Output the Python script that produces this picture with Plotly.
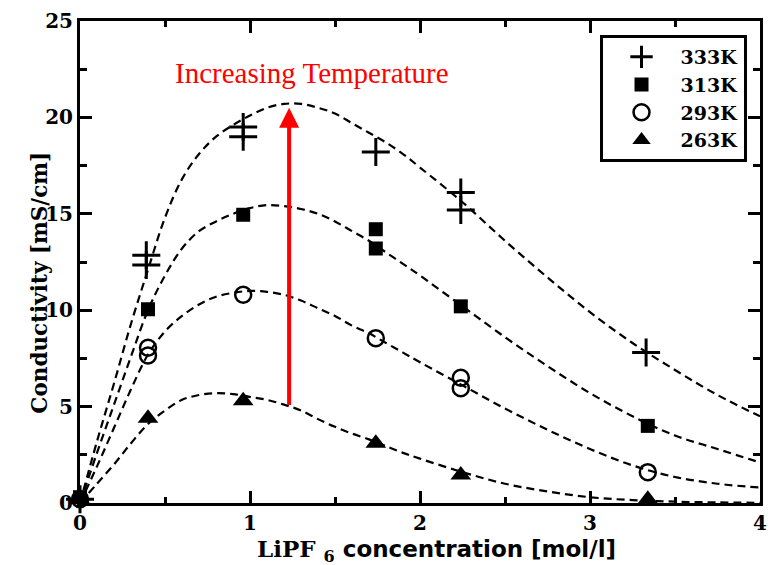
import plotly.graph_objects as go

# ---- data ----
labels = ["333K", "313K", "293K", "263K"]

x333 = [0, 0.39, 0.39, 0.96, 0.96, 1.74, 2.24, 2.24, 3.33]
y333 = [0.2, 12.85, 12.35, 19.5, 19.0, 18.2, 16.1, 15.2, 7.8]

x313 = [0, 0.40, 0.96, 1.74, 1.74, 2.24, 3.34]
y313 = [0.3, 10.05, 14.95, 14.2, 13.2, 10.2, 4.0]

x293 = [-0.085, 0.0, 0.0, 0.40, 0.40, 0.96, 1.74, 2.24, 2.24, 3.34]
y293 = [0.05, -0.95, 0.2, 8.05, 7.65, 10.8, 8.55, 6.5, 5.95, 1.6]

x263 = [0, 0.40, 0.96, 1.74, 2.24, 3.34]
y263 = [0.2, 4.4, 5.3, 3.1, 1.45, 0.2]

# fitted (dashed) curves
fit_x = [0, 0.1, 0.2, 0.3, 0.4, 0.5, 0.6, 0.7, 0.8, 0.9, 1.0, 1.1, 1.2, 1.3, 1.4,
         1.5, 1.6, 1.7, 1.8, 1.9, 2.0, 2.25, 2.5, 2.75, 3.0, 3.25, 3.5, 3.75, 4.0]
fit333 = [0, 3.2, 6.2, 9.3, 12.1, 14.8, 16.8, 18.1, 19.0, 19.6, 20.1, 20.5, 20.7, 20.7, 20.5,
          20.2, 19.7, 19.2, 18.7, 18.1, 17.4, 15.6, 13.6, 11.7, 9.9, 8.3, 6.9, 5.6, 4.5]
fit313 = [0, 2.6, 5.1, 7.6, 10.0, 11.8, 13.2, 14.1, 14.6, 15.0, 15.3, 15.45, 15.4, 15.25, 15.0,
          14.6, 14.1, 13.6, 13.0, 12.4, 11.8, 10.2, 8.6, 7.1, 5.7, 4.5, 3.5, 2.8, 2.1]
fit293 = [0, 1.9, 3.9, 5.9, 7.7, 8.9, 9.7, 10.3, 10.7, 10.9, 11.0, 10.95, 10.8, 10.5, 10.1,
          9.7, 9.2, 8.8, 8.3, 7.8, 7.3, 6.1, 4.9, 3.8, 2.8, 1.95, 1.35, 1.0, 0.8]
fit263 = [0, 1.0, 2.0, 3.1, 4.1, 4.8, 5.35, 5.6, 5.7, 5.65, 5.5, 5.35, 5.1, 4.8, 4.35,
          3.95, 3.6, 3.3, 2.95, 2.6, 2.3, 1.6, 1.0, 0.6, 0.3, 0.15, 0.07, 0.03, 0.01]

arrow_x = 1.23
arrow_y0 = 5.0
arrow_y1 = 20.5

x_ticks = [0, 1, 2, 3, 4]
y_ticks = [0, 5, 10, 15, 20, 25]

SERIF = "DejaVu Serif"
TIMES = "Liberation Serif"
SANS = "DejaVu Sans"

fig = go.Figure()

for fy in [fit333, fit313, fit293, fit263]:
    fig.add_trace(go.Scatter(
        x=fit_x, y=fy, mode="lines", showlegend=False, hoverinfo="skip",
        line=dict(color="black", width=2.2, dash="8px,5px", shape="spline", smoothing=1.0),
    ))

series = [
    (x333, y333, dict(symbol="cross-thin", size=20, color="black", line=dict(width=3, color="black"))),
    (x313, y313, dict(symbol="square", size=14, color="black", line=dict(width=0))),
    (x293, y293, dict(symbol="circle-open", size=16, color="black", line=dict(width=2.5, color="black"))),
    (x263, y263, dict(symbol="triangle-up", size=18, color="black", line=dict(width=0))),
]
for (xs, ys, mk), name in zip(series, labels):
    fig.add_trace(go.Scatter(x=xs, y=ys, mode="markers", name=name, marker=mk, cliponaxis=False))

axis_common = dict(
    showline=True, linecolor="black", linewidth=3, mirror="ticks",
    ticks="inside", ticklen=12, tickwidth=2.5, tickcolor="black",
    showgrid=False, zeroline=False,
    tickfont=dict(family=SERIF, size=20, color="black", weight="bold"),
)

fig.update_xaxes(range=[0, 4], tickvals=x_ticks,
                 minor=dict(dtick=0.5, ticks="inside", ticklen=6, tickwidth=2.5, tickcolor="black"),
                 **axis_common)
fig.update_yaxes(range=[0, 25], tickvals=y_ticks,
                 minor=dict(dtick=2.5, ticks="inside", ticklen=7, tickwidth=2.5, tickcolor="black"),
                 **axis_common)

fig.add_annotation(
    x=arrow_x, y=arrow_y1, ax=arrow_x, ay=arrow_y0, xref="x", yref="y", axref="x", ayref="y",
    text="", showarrow=True, arrowhead=2, arrowsize=1.0, arrowwidth=4, arrowcolor="red", standoff=0,
)
fig.add_annotation(
    x=1.367, y=22.3, xref="x", yref="y", text="Increasing Temperature", showarrow=False,
    font=dict(family=TIMES, size=29, color="red"), xanchor="center", yanchor="middle",
)
fig.add_annotation(
    x=-0.0597, y=0.458, xref="paper", yref="paper", text="Conductivity [mS/cm]", textangle=-90,
    showarrow=False, font=dict(family=SERIF, size=21.5, color="black", weight="bold"),
    xanchor="center", yanchor="middle",
)
fig.add_annotation(
    x=0.524, y=-0.098, xref="paper", yref="paper",
    text="LiPF <sub>6</sub><span style=\"font-family:DejaVu Sans\"> concentration [mol/l]</span>",
    showarrow=False, font=dict(family=SERIF, size=23, color="black", weight="bold"),
    xanchor="center", yanchor="middle",
)

fig.update_layout(
    width=774, height=565,
    margin=dict(l=80, r=7, t=21, b=62),
    paper_bgcolor="white", plot_bgcolor="white",
    showlegend=True,
    legend=dict(
        x=0.764, y=0.971, xanchor="left", yanchor="top",
        bgcolor="white", bordercolor="black", borderwidth=3,
        font=dict(family=SERIF, size=19, color="black", weight="bold"),
        itemsizing="trace", itemwidth=68, tracegroupgap=0,
    ),
)

fig.write_html("out.html")
